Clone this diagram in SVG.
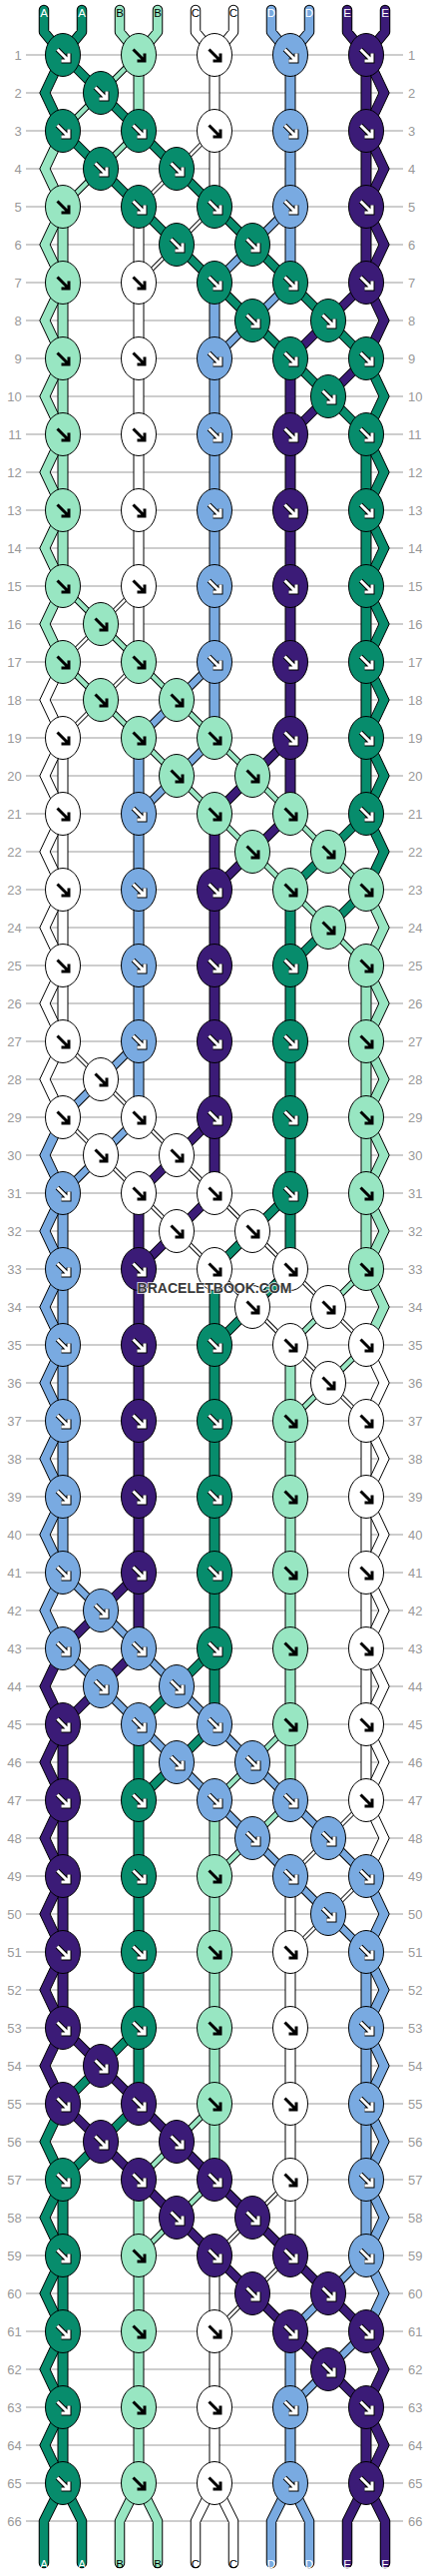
<svg xmlns="http://www.w3.org/2000/svg" xmlns:xlink="http://www.w3.org/1999/xlink" width="430" height="2580" viewBox="0 0 430 2580">
<style>
.gl{fill:none;stroke:#bdbdbd;stroke-width:1.3}
.rn{font-family:"Liberation Sans",Arial,sans-serif;font-size:13px;fill:#999}
.rl{text-anchor:end}
.vo{fill:none;stroke:#000;stroke-width:11}
.vf{fill:none;stroke-width:9}
.zz{stroke:#000;stroke-width:1;stroke-linejoin:miter}
.do{fill:none;stroke:#000}
.df{fill:none}
.lo{fill:none;stroke:#000;stroke-width:10.5;stroke-linecap:round;stroke-linejoin:round}
.lf{fill:none;stroke-width:8.5;stroke-linecap:round;stroke-linejoin:round}
.sl{font-family:"Liberation Sans",Arial,sans-serif;font-size:11.5px;text-anchor:middle}
.sw{fill:#fff}.sb{fill:#000}
ellipse{stroke:#000;stroke-width:1}
.au{fill:none;stroke:#000;stroke-width:5}
.aw{fill:none;stroke:#fff;stroke-width:3}
.ab{fill:none;stroke:#000;stroke-width:3}
.A{fill:#078c6c}.B{fill:#98e6c2}.C{fill:#fff}.D{fill:#79aae1}.E{fill:#3b1b77}
.oA{--f0:#078c6c;--d0:7.5px;--e0:9.5px;--f1:#98e6c2;--d1:4.5px;--e1:6.5px;--f2:#fff;--d2:2.5px;--e2:4.5px;--f3:#79aae1;--d3:6.5px;--e3:8.5px;--f4:#3b1b77;--d4:7.5px;--e4:9.5px}
.oB{--f0:#98e6c2;--d0:4.5px;--e0:6.5px;--f1:#fff;--d1:2.5px;--e1:4.5px;--f2:#79aae1;--d2:6.5px;--e2:8.5px;--f3:#3b1b77;--d3:7.5px;--e3:9.5px;--f4:#078c6c;--d4:7.5px;--e4:9.5px}
.oC{--f0:#fff;--d0:2.5px;--e0:4.5px;--f1:#79aae1;--d1:6.5px;--e1:8.5px;--f2:#3b1b77;--d2:7.5px;--e2:9.5px;--f3:#078c6c;--d3:7.5px;--e3:9.5px;--f4:#98e6c2;--d4:4.5px;--e4:6.5px}
.oD{--f0:#79aae1;--d0:6.5px;--e0:8.5px;--f1:#3b1b77;--d1:7.5px;--e1:9.5px;--f2:#078c6c;--d2:7.5px;--e2:9.5px;--f3:#98e6c2;--d3:4.5px;--e3:6.5px;--f4:#fff;--d4:2.5px;--e4:4.5px}
.oE{--f0:#3b1b77;--d0:7.5px;--e0:9.5px;--f1:#078c6c;--d1:7.5px;--e1:9.5px;--f2:#98e6c2;--d2:4.5px;--e2:6.5px;--f3:#fff;--d3:2.5px;--e3:4.5px;--f4:#79aae1;--d4:6.5px;--e4:8.5px}
.wm{font-family:"Liberation Sans",Arial,sans-serif;font-size:14px;font-weight:bold;text-anchor:middle;fill:#3a3a3a;stroke:rgba(255,255,255,.75);stroke-width:2;paint-order:stroke}
</style>
<defs>
<g id="kw"><ellipse rx="17.5" ry="21.5"/><path class="au" d="M-5.5,-5.5L5,5M6,-1.5V6H-1.5"/><path class="aw" d="M-5.5,-5.5L5,5M6,-1.5V6H-1.5"/></g>
<g id="kb"><ellipse rx="17.5" ry="21.5"/><path class="ab" d="M-5.5,-5.5L5,5M6,-1.5V6H-1.5"/></g>
<g id="bs">
<path class="vo" d="M139,0V76M63,152V380M215,0V152M139,152V380M291,0V228M215,228V380M367,0V228M291,304V380"/>
<path class="vf" style="stroke:var(--f1)" d="M139,0V76M63,152V380"/>
<path class="vf" style="stroke:var(--f2)" d="M215,0V152M139,152V380"/>
<path class="vf" style="stroke:var(--f3)" d="M291,0V228M215,228V380"/>
<path class="vf" style="stroke:var(--f4)" d="M367,0V228M291,304V380"/>
<path class="zz" style="fill:var(--f0)" d="M57.8,0L39.8,38L57.8,76H68.2L50.2,38L68.2,0ZM361.8,304L379.8,342L361.8,380H372.2L390.2,342L372.2,304Z"/>
<path class="zz" style="fill:var(--f1)" d="M57.8,76L39.8,114L57.8,152L39.8,190L57.8,228L39.8,266L57.8,304L39.8,342L57.8,380H68.2L50.2,342L68.2,304L50.2,266L68.2,228L50.2,190L68.2,152L50.2,114L68.2,76Z"/>
<path class="zz" style="fill:var(--f4)" d="M372.2,0L390.2,38L372.2,76L390.2,114L372.2,152L390.2,190L372.2,228L390.2,266L372.2,304H361.8L379.8,266L361.8,228L379.8,190L361.8,152L379.8,114L361.8,76L379.8,38L361.8,0Z"/>
<path class="do" style="stroke-width:var(--e0)" d="M63,0L367,304M63,76L367,380"/>
<path class="df" style="stroke:var(--f0);stroke-width:var(--d0)" d="M63,0L367,304M63,76L367,380"/>
<path class="do" style="stroke-width:var(--e1)" d="M139,0L63,76M139,76L63,152"/>
<path class="df" style="stroke:var(--f1);stroke-width:var(--d1)" d="M139,0L63,76M139,76L63,152"/>
<path class="do" style="stroke-width:var(--e2)" d="M215,76L139,152M215,152L139,228"/>
<path class="df" style="stroke:var(--f2);stroke-width:var(--d2)" d="M215,76L139,152M215,152L139,228"/>
<path class="do" style="stroke-width:var(--e3)" d="M291,152L215,228M291,228L215,304"/>
<path class="df" style="stroke:var(--f3);stroke-width:var(--d3)" d="M291,152L215,228M291,228L215,304"/>
<path class="do" style="stroke-width:var(--e4)" d="M367,228L291,304M367,304L291,380"/>
<path class="df" style="stroke:var(--f4);stroke-width:var(--d4)" d="M367,228L291,304M367,304L291,380"/>
</g>
<g id="gs">
<path class="vo" d="M63,0V76M139,0V76M215,0V76M291,0V76M367,0V76"/>
<path class="vf" style="stroke:var(--f0)" d="M63,0V76"/>
<path class="vf" style="stroke:var(--f1)" d="M139,0V76"/>
<path class="vf" style="stroke:var(--f2)" d="M215,0V76"/>
<path class="vf" style="stroke:var(--f3)" d="M291,0V76"/>
<path class="vf" style="stroke:var(--f4)" d="M367,0V76"/>
<path class="zz" style="fill:var(--f0)" d="M57.8,0L39.8,38L57.8,76H68.2L50.2,38L68.2,0Z"/>
<path class="zz" style="fill:var(--f4)" d="M372.2,0L390.2,38L372.2,76H361.8L379.8,38L361.8,0Z"/>
</g>
</defs>
<rect width="430" height="2580" fill="#fff"/>
<g id="grid">
<path class="gl" d="M26,55h378M26,93h378M26,131h378M26,169h378M26,207h378M26,245h378M26,283h378M26,321h378M26,359h378M26,397h378M26,435h378M26,473h378M26,511h378M26,549h378M26,587h378M26,625h378M26,663h378M26,701h378M26,739h378M26,777h378M26,815h378M26,853h378M26,891h378M26,929h378M26,967h378M26,1005h378M26,1043h378M26,1081h378M26,1119h378M26,1157h378M26,1195h378M26,1233h378M26,1271h378M26,1309h378M26,1347h378M26,1385h378M26,1423h378M26,1461h378M26,1499h378M26,1537h378M26,1575h378M26,1613h378M26,1651h378M26,1689h378M26,1727h378M26,1765h378M26,1803h378M26,1841h378M26,1879h378M26,1917h378M26,1955h378M26,1993h378M26,2031h378M26,2069h378M26,2107h378M26,2145h378M26,2183h378M26,2221h378M26,2259h378M26,2297h378M26,2335h378M26,2373h378M26,2411h378M26,2449h378M26,2487h378M26,2525h378"/>
</g>
<g id="row-labels-left" class="rn rl">
<text x="21.7" y="59.6">1</text><text x="21.7" y="97.6">2</text><text x="21.7" y="135.6">3</text><text x="21.7" y="173.6">4</text><text x="21.7" y="211.6">5</text><text x="21.7" y="249.6">6</text><text x="21.7" y="287.6">7</text><text x="21.7" y="325.6">8</text><text x="21.7" y="363.6">9</text><text x="21.7" y="401.6">10</text>
<text x="21.7" y="439.6">11</text><text x="21.7" y="477.6">12</text><text x="21.7" y="515.6">13</text><text x="21.7" y="553.6">14</text><text x="21.7" y="591.6">15</text><text x="21.7" y="629.6">16</text><text x="21.7" y="667.6">17</text><text x="21.7" y="705.6">18</text><text x="21.7" y="743.6">19</text><text x="21.7" y="781.6">20</text>
<text x="21.7" y="819.6">21</text><text x="21.7" y="857.6">22</text><text x="21.7" y="895.6">23</text><text x="21.7" y="933.6">24</text><text x="21.7" y="971.6">25</text><text x="21.7" y="1009.6">26</text><text x="21.7" y="1047.6">27</text><text x="21.7" y="1085.6">28</text><text x="21.7" y="1123.6">29</text><text x="21.7" y="1161.6">30</text>
<text x="21.7" y="1199.6">31</text><text x="21.7" y="1237.6">32</text><text x="21.7" y="1275.6">33</text><text x="21.7" y="1313.6">34</text><text x="21.7" y="1351.6">35</text><text x="21.7" y="1389.6">36</text><text x="21.7" y="1427.6">37</text><text x="21.7" y="1465.6">38</text><text x="21.7" y="1503.6">39</text><text x="21.7" y="1541.6">40</text>
<text x="21.7" y="1579.6">41</text><text x="21.7" y="1617.6">42</text><text x="21.7" y="1655.6">43</text><text x="21.7" y="1693.6">44</text><text x="21.7" y="1731.6">45</text><text x="21.7" y="1769.6">46</text><text x="21.7" y="1807.6">47</text><text x="21.7" y="1845.6">48</text><text x="21.7" y="1883.6">49</text><text x="21.7" y="1921.6">50</text>
<text x="21.7" y="1959.6">51</text><text x="21.7" y="1997.6">52</text><text x="21.7" y="2035.6">53</text><text x="21.7" y="2073.6">54</text><text x="21.7" y="2111.6">55</text><text x="21.7" y="2149.6">56</text><text x="21.7" y="2187.6">57</text><text x="21.7" y="2225.6">58</text><text x="21.7" y="2263.6">59</text><text x="21.7" y="2301.6">60</text>
<text x="21.7" y="2339.6">61</text><text x="21.7" y="2377.6">62</text><text x="21.7" y="2415.6">63</text><text x="21.7" y="2453.6">64</text><text x="21.7" y="2491.6">65</text><text x="21.7" y="2529.6">66</text>
</g>
<g id="row-labels-right" class="rn">
<text x="409" y="59.6">1</text><text x="409" y="97.6">2</text><text x="409" y="135.6">3</text><text x="409" y="173.6">4</text><text x="409" y="211.6">5</text><text x="409" y="249.6">6</text><text x="409" y="287.6">7</text><text x="409" y="325.6">8</text><text x="409" y="363.6">9</text><text x="409" y="401.6">10</text>
<text x="409" y="439.6">11</text><text x="409" y="477.6">12</text><text x="409" y="515.6">13</text><text x="409" y="553.6">14</text><text x="409" y="591.6">15</text><text x="409" y="629.6">16</text><text x="409" y="667.6">17</text><text x="409" y="705.6">18</text><text x="409" y="743.6">19</text><text x="409" y="781.6">20</text>
<text x="409" y="819.6">21</text><text x="409" y="857.6">22</text><text x="409" y="895.6">23</text><text x="409" y="933.6">24</text><text x="409" y="971.6">25</text><text x="409" y="1009.6">26</text><text x="409" y="1047.6">27</text><text x="409" y="1085.6">28</text><text x="409" y="1123.6">29</text><text x="409" y="1161.6">30</text>
<text x="409" y="1199.6">31</text><text x="409" y="1237.6">32</text><text x="409" y="1275.6">33</text><text x="409" y="1313.6">34</text><text x="409" y="1351.6">35</text><text x="409" y="1389.6">36</text><text x="409" y="1427.6">37</text><text x="409" y="1465.6">38</text><text x="409" y="1503.6">39</text><text x="409" y="1541.6">40</text>
<text x="409" y="1579.6">41</text><text x="409" y="1617.6">42</text><text x="409" y="1655.6">43</text><text x="409" y="1693.6">44</text><text x="409" y="1731.6">45</text><text x="409" y="1769.6">46</text><text x="409" y="1807.6">47</text><text x="409" y="1845.6">48</text><text x="409" y="1883.6">49</text><text x="409" y="1921.6">50</text>
<text x="409" y="1959.6">51</text><text x="409" y="1997.6">52</text><text x="409" y="2035.6">53</text><text x="409" y="2073.6">54</text><text x="409" y="2111.6">55</text><text x="409" y="2149.6">56</text><text x="409" y="2187.6">57</text><text x="409" y="2225.6">58</text><text x="409" y="2263.6">59</text><text x="409" y="2301.6">60</text>
<text x="409" y="2339.6">61</text><text x="409" y="2377.6">62</text><text x="409" y="2415.6">63</text><text x="409" y="2453.6">64</text><text x="409" y="2491.6">65</text><text x="409" y="2529.6">66</text>
</g>
<g id="connectors">
<path class="lo" d="M44,10V32L63,55M82,10V32L63,55M120,10V32L139,55M158,10V32L139,55M196,10V32L215,55M234,10V32L215,55M272,10V32L291,55M310,10V32L291,55M348,10V32L367,55M386,10V32L367,55"/>
<path class="lf" style="stroke:#078c6c" d="M44,10V32L63,55M82,10V32L63,55"/>
<path class="lf" style="stroke:#98e6c2" d="M120,10V32L139,55M158,10V32L139,55"/>
<path class="lf" style="stroke:#fff" d="M196,10V32L215,55M234,10V32L215,55"/>
<path class="lf" style="stroke:#79aae1" d="M272,10V32L291,55M310,10V32L291,55"/>
<path class="lf" style="stroke:#3b1b77" d="M348,10V32L367,55M386,10V32L367,55"/>
<use href="#bs" y="55" class="oA"/>
<use href="#gs" y="435" class="oB"/>
<use href="#gs" y="511" class="oB"/>
<use href="#bs" y="587" class="oB"/>
<use href="#gs" y="967" class="oC"/>
<use href="#bs" y="1043" class="oC"/>
<use href="#gs" y="1423" class="oD"/>
<use href="#gs" y="1499" class="oD"/>
<use href="#bs" y="1575" class="oD"/>
<use href="#gs" y="1955" class="oE"/>
<use href="#bs" y="2031" class="oE"/>
<use href="#gs" y="2411" class="oA"/>
<path class="lo" d="M63,2487L44,2525V2567M63,2487L82,2525V2567M139,2487L120,2525V2567M139,2487L158,2525V2567M215,2487L196,2525V2567M215,2487L234,2525V2567M291,2487L272,2525V2567M291,2487L310,2525V2567M367,2487L348,2525V2567M367,2487L386,2525V2567"/>
<path class="lf" style="stroke:#078c6c" d="M63,2487L44,2525V2567M63,2487L82,2525V2567"/>
<path class="lf" style="stroke:#98e6c2" d="M139,2487L120,2525V2567M139,2487L158,2525V2567"/>
<path class="lf" style="stroke:#fff" d="M215,2487L196,2525V2567M215,2487L234,2525V2567"/>
<path class="lf" style="stroke:#79aae1" d="M291,2487L272,2525V2567M291,2487L310,2525V2567"/>
<path class="lf" style="stroke:#3b1b77" d="M367,2487L348,2525V2567M367,2487L386,2525V2567"/>
</g>
<g id="strand-labels" class="sl">
<text class="sw" x="44" y="16.7">A</text><text class="sw" x="82" y="16.7">A</text><text class="sb" x="120" y="16.7">B</text><text class="sb" x="158" y="16.7">B</text><text class="sb" x="196" y="16.7">C</text><text class="sb" x="234" y="16.7">C</text><text class="sw" x="272" y="16.7">D</text><text class="sw" x="310" y="16.7">D</text><text class="sw" x="348" y="16.7">E</text><text class="sw" x="386" y="16.7">E</text>
<text class="sw" x="44" y="2571.5">A</text><text class="sw" x="82" y="2571.5">A</text><text class="sb" x="120" y="2571.5">B</text><text class="sb" x="158" y="2571.5">B</text><text class="sb" x="196" y="2571.5">C</text><text class="sb" x="234" y="2571.5">C</text><text class="sw" x="272" y="2571.5">D</text><text class="sw" x="310" y="2571.5">D</text><text class="sw" x="348" y="2571.5">E</text><text class="sw" x="386" y="2571.5">E</text>
</g>
<g id="knots">
<g id="k1-63" class="A"><use href="#kw" x="63" y="55"/></g><g id="k1-139" class="B"><use href="#kb" x="139" y="55"/></g><g id="k1-215" class="C"><use href="#kb" x="215" y="55"/></g><g id="k1-291" class="D"><use href="#kw" x="291" y="55"/></g><g id="k1-367" class="E"><use href="#kw" x="367" y="55"/></g>
<g id="k2-101" class="A"><use href="#kw" x="101" y="93"/></g>
<g id="k3-63" class="A"><use href="#kw" x="63" y="131"/></g><g id="k3-139" class="A"><use href="#kw" x="139" y="131"/></g><g id="k3-215" class="C"><use href="#kb" x="215" y="131"/></g><g id="k3-291" class="D"><use href="#kw" x="291" y="131"/></g><g id="k3-367" class="E"><use href="#kw" x="367" y="131"/></g>
<g id="k4-101" class="A"><use href="#kw" x="101" y="169"/></g><g id="k4-177" class="A"><use href="#kw" x="177" y="169"/></g>
<g id="k5-63" class="B"><use href="#kb" x="63" y="207"/></g><g id="k5-139" class="A"><use href="#kw" x="139" y="207"/></g><g id="k5-215" class="A"><use href="#kw" x="215" y="207"/></g><g id="k5-291" class="D"><use href="#kw" x="291" y="207"/></g><g id="k5-367" class="E"><use href="#kw" x="367" y="207"/></g>
<g id="k6-177" class="A"><use href="#kw" x="177" y="245"/></g><g id="k6-253" class="A"><use href="#kw" x="253" y="245"/></g>
<g id="k7-63" class="B"><use href="#kb" x="63" y="283"/></g><g id="k7-139" class="C"><use href="#kb" x="139" y="283"/></g><g id="k7-215" class="A"><use href="#kw" x="215" y="283"/></g><g id="k7-291" class="A"><use href="#kw" x="291" y="283"/></g><g id="k7-367" class="E"><use href="#kw" x="367" y="283"/></g>
<g id="k8-253" class="A"><use href="#kw" x="253" y="321"/></g><g id="k8-329" class="A"><use href="#kw" x="329" y="321"/></g>
<g id="k9-63" class="B"><use href="#kb" x="63" y="359"/></g><g id="k9-139" class="C"><use href="#kb" x="139" y="359"/></g><g id="k9-215" class="D"><use href="#kw" x="215" y="359"/></g><g id="k9-291" class="A"><use href="#kw" x="291" y="359"/></g><g id="k9-367" class="A"><use href="#kw" x="367" y="359"/></g>
<g id="k10-329" class="A"><use href="#kw" x="329" y="397"/></g>
<g id="k11-63" class="B"><use href="#kb" x="63" y="435"/></g><g id="k11-139" class="C"><use href="#kb" x="139" y="435"/></g><g id="k11-215" class="D"><use href="#kw" x="215" y="435"/></g><g id="k11-291" class="E"><use href="#kw" x="291" y="435"/></g><g id="k11-367" class="A"><use href="#kw" x="367" y="435"/></g>
<g id="k13-63" class="B"><use href="#kb" x="63" y="511"/></g><g id="k13-139" class="C"><use href="#kb" x="139" y="511"/></g><g id="k13-215" class="D"><use href="#kw" x="215" y="511"/></g><g id="k13-291" class="E"><use href="#kw" x="291" y="511"/></g><g id="k13-367" class="A"><use href="#kw" x="367" y="511"/></g>
<g id="k15-63" class="B"><use href="#kb" x="63" y="587"/></g><g id="k15-139" class="C"><use href="#kb" x="139" y="587"/></g><g id="k15-215" class="D"><use href="#kw" x="215" y="587"/></g><g id="k15-291" class="E"><use href="#kw" x="291" y="587"/></g><g id="k15-367" class="A"><use href="#kw" x="367" y="587"/></g>
<g id="k16-101" class="B"><use href="#kb" x="101" y="625"/></g>
<g id="k17-63" class="B"><use href="#kb" x="63" y="663"/></g><g id="k17-139" class="B"><use href="#kb" x="139" y="663"/></g><g id="k17-215" class="D"><use href="#kw" x="215" y="663"/></g><g id="k17-291" class="E"><use href="#kw" x="291" y="663"/></g><g id="k17-367" class="A"><use href="#kw" x="367" y="663"/></g>
<g id="k18-101" class="B"><use href="#kb" x="101" y="701"/></g><g id="k18-177" class="B"><use href="#kb" x="177" y="701"/></g>
<g id="k19-63" class="C"><use href="#kb" x="63" y="739"/></g><g id="k19-139" class="B"><use href="#kb" x="139" y="739"/></g><g id="k19-215" class="B"><use href="#kb" x="215" y="739"/></g><g id="k19-291" class="E"><use href="#kw" x="291" y="739"/></g><g id="k19-367" class="A"><use href="#kw" x="367" y="739"/></g>
<g id="k20-177" class="B"><use href="#kb" x="177" y="777"/></g><g id="k20-253" class="B"><use href="#kb" x="253" y="777"/></g>
<g id="k21-63" class="C"><use href="#kb" x="63" y="815"/></g><g id="k21-139" class="D"><use href="#kw" x="139" y="815"/></g><g id="k21-215" class="B"><use href="#kb" x="215" y="815"/></g><g id="k21-291" class="B"><use href="#kb" x="291" y="815"/></g><g id="k21-367" class="A"><use href="#kw" x="367" y="815"/></g>
<g id="k22-253" class="B"><use href="#kb" x="253" y="853"/></g><g id="k22-329" class="B"><use href="#kb" x="329" y="853"/></g>
<g id="k23-63" class="C"><use href="#kb" x="63" y="891"/></g><g id="k23-139" class="D"><use href="#kw" x="139" y="891"/></g><g id="k23-215" class="E"><use href="#kw" x="215" y="891"/></g><g id="k23-291" class="B"><use href="#kb" x="291" y="891"/></g><g id="k23-367" class="B"><use href="#kb" x="367" y="891"/></g>
<g id="k24-329" class="B"><use href="#kb" x="329" y="929"/></g>
<g id="k25-63" class="C"><use href="#kb" x="63" y="967"/></g><g id="k25-139" class="D"><use href="#kw" x="139" y="967"/></g><g id="k25-215" class="E"><use href="#kw" x="215" y="967"/></g><g id="k25-291" class="A"><use href="#kw" x="291" y="967"/></g><g id="k25-367" class="B"><use href="#kb" x="367" y="967"/></g>
<g id="k27-63" class="C"><use href="#kb" x="63" y="1043"/></g><g id="k27-139" class="D"><use href="#kw" x="139" y="1043"/></g><g id="k27-215" class="E"><use href="#kw" x="215" y="1043"/></g><g id="k27-291" class="A"><use href="#kw" x="291" y="1043"/></g><g id="k27-367" class="B"><use href="#kb" x="367" y="1043"/></g>
<g id="k28-101" class="C"><use href="#kb" x="101" y="1081"/></g>
<g id="k29-63" class="C"><use href="#kb" x="63" y="1119"/></g><g id="k29-139" class="C"><use href="#kb" x="139" y="1119"/></g><g id="k29-215" class="E"><use href="#kw" x="215" y="1119"/></g><g id="k29-291" class="A"><use href="#kw" x="291" y="1119"/></g><g id="k29-367" class="B"><use href="#kb" x="367" y="1119"/></g>
<g id="k30-101" class="C"><use href="#kb" x="101" y="1157"/></g><g id="k30-177" class="C"><use href="#kb" x="177" y="1157"/></g>
<g id="k31-63" class="D"><use href="#kw" x="63" y="1195"/></g><g id="k31-139" class="C"><use href="#kb" x="139" y="1195"/></g><g id="k31-215" class="C"><use href="#kb" x="215" y="1195"/></g><g id="k31-291" class="A"><use href="#kw" x="291" y="1195"/></g><g id="k31-367" class="B"><use href="#kb" x="367" y="1195"/></g>
<g id="k32-177" class="C"><use href="#kb" x="177" y="1233"/></g><g id="k32-253" class="C"><use href="#kb" x="253" y="1233"/></g>
<g id="k33-63" class="D"><use href="#kw" x="63" y="1271"/></g><g id="k33-139" class="E"><use href="#kw" x="139" y="1271"/></g><g id="k33-215" class="C"><use href="#kb" x="215" y="1271"/></g><g id="k33-291" class="C"><use href="#kb" x="291" y="1271"/></g><g id="k33-367" class="B"><use href="#kb" x="367" y="1271"/></g>
<g id="k34-253" class="C"><use href="#kb" x="253" y="1309"/></g><g id="k34-329" class="C"><use href="#kb" x="329" y="1309"/></g>
<g id="k35-63" class="D"><use href="#kw" x="63" y="1347"/></g><g id="k35-139" class="E"><use href="#kw" x="139" y="1347"/></g><g id="k35-215" class="A"><use href="#kw" x="215" y="1347"/></g><g id="k35-291" class="C"><use href="#kb" x="291" y="1347"/></g><g id="k35-367" class="C"><use href="#kb" x="367" y="1347"/></g>
<g id="k36-329" class="C"><use href="#kb" x="329" y="1385"/></g>
<g id="k37-63" class="D"><use href="#kw" x="63" y="1423"/></g><g id="k37-139" class="E"><use href="#kw" x="139" y="1423"/></g><g id="k37-215" class="A"><use href="#kw" x="215" y="1423"/></g><g id="k37-291" class="B"><use href="#kb" x="291" y="1423"/></g><g id="k37-367" class="C"><use href="#kb" x="367" y="1423"/></g>
<g id="k39-63" class="D"><use href="#kw" x="63" y="1499"/></g><g id="k39-139" class="E"><use href="#kw" x="139" y="1499"/></g><g id="k39-215" class="A"><use href="#kw" x="215" y="1499"/></g><g id="k39-291" class="B"><use href="#kb" x="291" y="1499"/></g><g id="k39-367" class="C"><use href="#kb" x="367" y="1499"/></g>
<g id="k41-63" class="D"><use href="#kw" x="63" y="1575"/></g><g id="k41-139" class="E"><use href="#kw" x="139" y="1575"/></g><g id="k41-215" class="A"><use href="#kw" x="215" y="1575"/></g><g id="k41-291" class="B"><use href="#kb" x="291" y="1575"/></g><g id="k41-367" class="C"><use href="#kb" x="367" y="1575"/></g>
<g id="k42-101" class="D"><use href="#kw" x="101" y="1613"/></g>
<g id="k43-63" class="D"><use href="#kw" x="63" y="1651"/></g><g id="k43-139" class="D"><use href="#kw" x="139" y="1651"/></g><g id="k43-215" class="A"><use href="#kw" x="215" y="1651"/></g><g id="k43-291" class="B"><use href="#kb" x="291" y="1651"/></g><g id="k43-367" class="C"><use href="#kb" x="367" y="1651"/></g>
<g id="k44-101" class="D"><use href="#kw" x="101" y="1689"/></g><g id="k44-177" class="D"><use href="#kw" x="177" y="1689"/></g>
<g id="k45-63" class="E"><use href="#kw" x="63" y="1727"/></g><g id="k45-139" class="D"><use href="#kw" x="139" y="1727"/></g><g id="k45-215" class="D"><use href="#kw" x="215" y="1727"/></g><g id="k45-291" class="B"><use href="#kb" x="291" y="1727"/></g><g id="k45-367" class="C"><use href="#kb" x="367" y="1727"/></g>
<g id="k46-177" class="D"><use href="#kw" x="177" y="1765"/></g><g id="k46-253" class="D"><use href="#kw" x="253" y="1765"/></g>
<g id="k47-63" class="E"><use href="#kw" x="63" y="1803"/></g><g id="k47-139" class="A"><use href="#kw" x="139" y="1803"/></g><g id="k47-215" class="D"><use href="#kw" x="215" y="1803"/></g><g id="k47-291" class="D"><use href="#kw" x="291" y="1803"/></g><g id="k47-367" class="C"><use href="#kb" x="367" y="1803"/></g>
<g id="k48-253" class="D"><use href="#kw" x="253" y="1841"/></g><g id="k48-329" class="D"><use href="#kw" x="329" y="1841"/></g>
<g id="k49-63" class="E"><use href="#kw" x="63" y="1879"/></g><g id="k49-139" class="A"><use href="#kw" x="139" y="1879"/></g><g id="k49-215" class="B"><use href="#kb" x="215" y="1879"/></g><g id="k49-291" class="D"><use href="#kw" x="291" y="1879"/></g><g id="k49-367" class="D"><use href="#kw" x="367" y="1879"/></g>
<g id="k50-329" class="D"><use href="#kw" x="329" y="1917"/></g>
<g id="k51-63" class="E"><use href="#kw" x="63" y="1955"/></g><g id="k51-139" class="A"><use href="#kw" x="139" y="1955"/></g><g id="k51-215" class="B"><use href="#kb" x="215" y="1955"/></g><g id="k51-291" class="C"><use href="#kb" x="291" y="1955"/></g><g id="k51-367" class="D"><use href="#kw" x="367" y="1955"/></g>
<g id="k53-63" class="E"><use href="#kw" x="63" y="2031"/></g><g id="k53-139" class="A"><use href="#kw" x="139" y="2031"/></g><g id="k53-215" class="B"><use href="#kb" x="215" y="2031"/></g><g id="k53-291" class="C"><use href="#kb" x="291" y="2031"/></g><g id="k53-367" class="D"><use href="#kw" x="367" y="2031"/></g>
<g id="k54-101" class="E"><use href="#kw" x="101" y="2069"/></g>
<g id="k55-63" class="E"><use href="#kw" x="63" y="2107"/></g><g id="k55-139" class="E"><use href="#kw" x="139" y="2107"/></g><g id="k55-215" class="B"><use href="#kb" x="215" y="2107"/></g><g id="k55-291" class="C"><use href="#kb" x="291" y="2107"/></g><g id="k55-367" class="D"><use href="#kw" x="367" y="2107"/></g>
<g id="k56-101" class="E"><use href="#kw" x="101" y="2145"/></g><g id="k56-177" class="E"><use href="#kw" x="177" y="2145"/></g>
<g id="k57-63" class="A"><use href="#kw" x="63" y="2183"/></g><g id="k57-139" class="E"><use href="#kw" x="139" y="2183"/></g><g id="k57-215" class="E"><use href="#kw" x="215" y="2183"/></g><g id="k57-291" class="C"><use href="#kb" x="291" y="2183"/></g><g id="k57-367" class="D"><use href="#kw" x="367" y="2183"/></g>
<g id="k58-177" class="E"><use href="#kw" x="177" y="2221"/></g><g id="k58-253" class="E"><use href="#kw" x="253" y="2221"/></g>
<g id="k59-63" class="A"><use href="#kw" x="63" y="2259"/></g><g id="k59-139" class="B"><use href="#kb" x="139" y="2259"/></g><g id="k59-215" class="E"><use href="#kw" x="215" y="2259"/></g><g id="k59-291" class="E"><use href="#kw" x="291" y="2259"/></g><g id="k59-367" class="D"><use href="#kw" x="367" y="2259"/></g>
<g id="k60-253" class="E"><use href="#kw" x="253" y="2297"/></g><g id="k60-329" class="E"><use href="#kw" x="329" y="2297"/></g>
<g id="k61-63" class="A"><use href="#kw" x="63" y="2335"/></g><g id="k61-139" class="B"><use href="#kb" x="139" y="2335"/></g><g id="k61-215" class="C"><use href="#kb" x="215" y="2335"/></g><g id="k61-291" class="E"><use href="#kw" x="291" y="2335"/></g><g id="k61-367" class="E"><use href="#kw" x="367" y="2335"/></g>
<g id="k62-329" class="E"><use href="#kw" x="329" y="2373"/></g>
<g id="k63-63" class="A"><use href="#kw" x="63" y="2411"/></g><g id="k63-139" class="B"><use href="#kb" x="139" y="2411"/></g><g id="k63-215" class="C"><use href="#kb" x="215" y="2411"/></g><g id="k63-291" class="D"><use href="#kw" x="291" y="2411"/></g><g id="k63-367" class="E"><use href="#kw" x="367" y="2411"/></g>
<g id="k65-63" class="A"><use href="#kw" x="63" y="2487"/></g><g id="k65-139" class="B"><use href="#kb" x="139" y="2487"/></g><g id="k65-215" class="C"><use href="#kb" x="215" y="2487"/></g><g id="k65-291" class="D"><use href="#kw" x="291" y="2487"/></g><g id="k65-367" class="E"><use href="#kw" x="367" y="2487"/></g>
</g>
<text id="watermark" class="wm" x="215" y="1295">BRACELETBOOK.COM</text>
</svg>
